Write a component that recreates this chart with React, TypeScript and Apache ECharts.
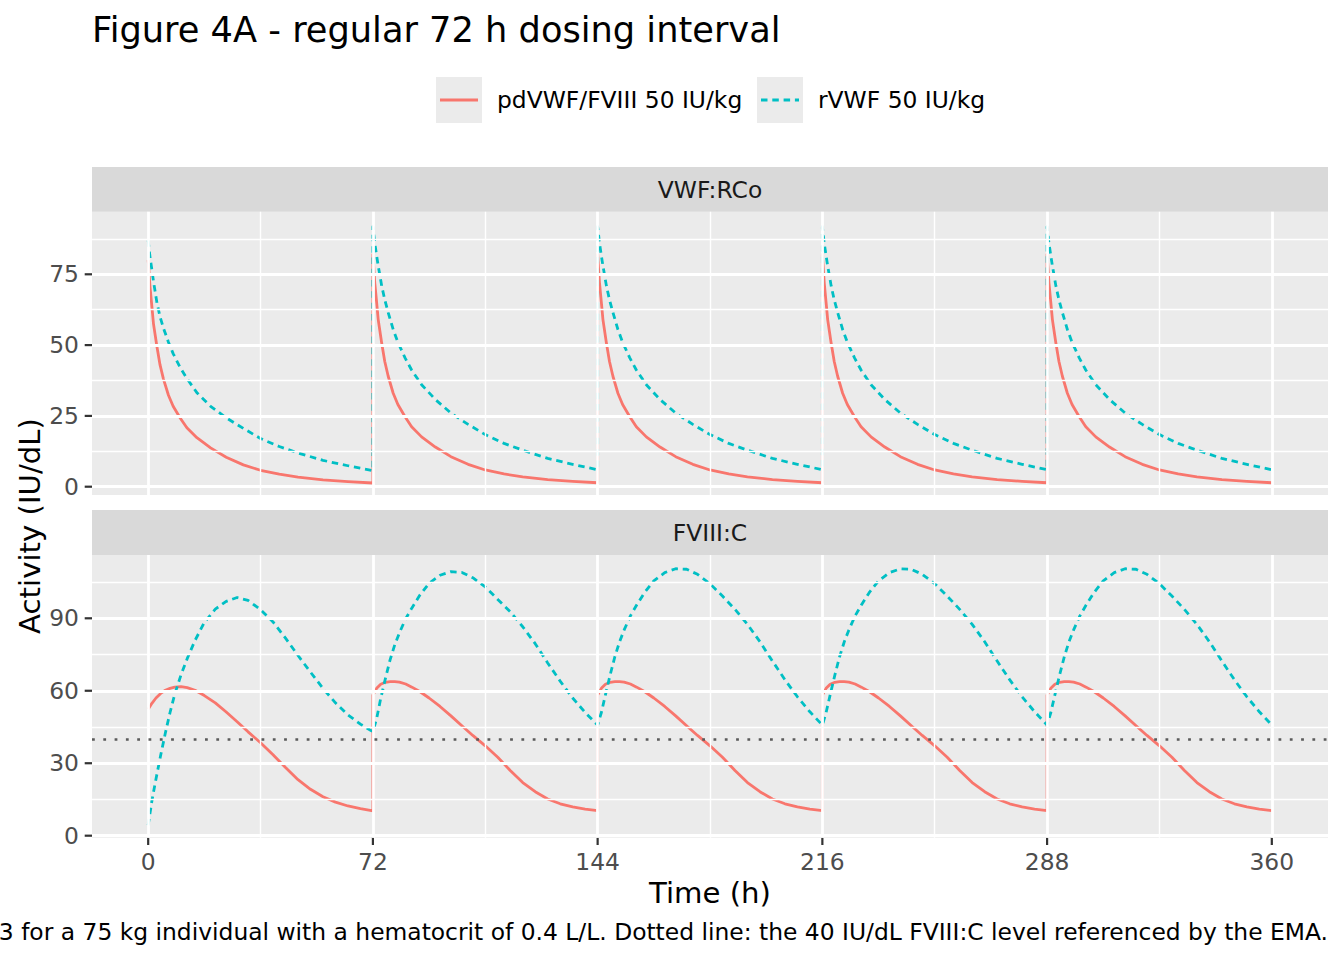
import React, { useEffect, useRef } from "react";
import * as echarts from "echarts";

// ---- data ----
const doseTimes = [0, 72, 144, 216, 288];

// VWF:RCo panel (hours after each dose)
const relTimesRCo = [0, 0.6, 1.2, 1.7, 2.8, 3.8, 4.9, 6.5, 8, 10.3, 12.4, 15.6, 20, 25, 30.5, 36, 42, 48, 56, 64, 72];
const rcoPdFirst = [80, 70.5, 63.5, 57.5, 49.5, 43, 38, 32.3, 28.4, 24.2, 20.8, 17.3, 13.7, 10.4, 7.7, 5.8, 4.4, 3.4, 2.4, 1.8, 1.3];
const rcoPdRepeat = [82, 72, 65, 59, 50.8, 44.2, 39, 33, 29, 24.7, 21.2, 17.6, 14, 10.6, 7.9, 5.9, 4.5, 3.5, 2.5, 1.9, 1.4];
const rcoRvwfFirst = [87, 81, 76.5, 72.5, 65, 60, 56, 51, 47, 42, 38.2, 33.2, 28.4, 24.3, 20.6, 17, 14.2, 11.9, 9.3, 7.4, 5.7];
const rcoRvwfRepeat = [91.8, 86, 81.5, 78, 71, 66, 61.5, 55.5, 51, 45.5, 41.2, 36, 30.8, 26, 22, 18.4, 15.3, 12.9, 10, 7.9, 6.0];

// FVIII:C panel (hours after each dose)
const relTimesF = [0, 1.2, 2.5, 4, 5.5, 7, 8.5, 10.5, 12.5, 15, 18, 21.5, 25, 28.5, 32, 36, 40, 44, 48, 52, 56, 60, 64, 68, 72];
const fPdFirst = [52.3, 54.8, 57, 58.9, 60.2, 61, 61.5, 61.7, 61.3, 60.2, 58, 55, 51.2, 47.2, 43, 38.5, 33.5, 28.2, 23.2, 19.2, 16.1, 13.9, 12.3, 11.2, 10.3];
const fPdRepeat = [58.2, 61, 62.7, 63.5, 63.8, 63.8, 63.6, 62.8, 61.5, 59.7, 57, 53.5, 49.6, 45.5, 41.5, 37.2, 32.5, 27, 22, 18.2, 15.2, 13.2, 11.9, 11, 10.4];
const fRvwfFirst = [4.3, 14.5, 23.5, 33.3, 42.5, 51, 58.5, 66.5, 73.3, 80.8, 88.3, 93.8, 97, 98.6, 97.4, 93.6, 88.5, 81.8, 74.6, 67.7, 61, 55, 50, 46.2, 43];
const fRvwfSecond = [43, 48.5, 56.8, 65, 72.8, 79, 84, 89.8, 94.3, 99.5, 104.5, 107.8, 109.3, 109, 106.8, 103, 97.8, 92.7, 86.5, 79.5, 71.5, 64, 57, 51, 45.8];
const fRvwfSteady = [45.8, 51, 58.3, 66.5, 74, 80.2, 85.2, 91, 95.5, 100.6, 105.5, 108.9, 110.5, 110.3, 108.2, 104.3, 99.2, 93.7, 87.5, 80.3, 72.3, 64.6, 57.5, 51.3, 45.8];

const emaLevel = 40;

// axis ticks / grid
const xTicks = [0, 72, 144, 216, 288, 360];
const xMinor = [36, 108, 180, 252, 324];
const rcoTicks = [0, 25, 50, 75];
const rcoMinor = [12.5, 37.5, 62.5, 87.5];
const fTicks = [0, 30, 60, 90];
const fMinor = [15, 45, 75, 105];

const seriesNames = ["pdVWF/FVIII 50 IU/kg", "rVWF 50 IU/kg"];
const panelNames = ["VWF:RCo", "FVIII:C"];

// ---- styling ----
const FONT = "DejaVu Sans";
const RED = "#F8766D";
const BLUE = "#00BFC4";
const DASH = [6.5, 4.8];
const LW = 2.8;
const PANEL_LEFT = 92;
const PANEL_W = 1236;
const TOP1 = 211.7;
const H1 = 283.3;
const TOP2 = 555;
const H2 = 282.7;
const TICK_LEN = 7.3;

function build(rel: number[], perInterval: number[][]) {
  const out: number[][] = [];
  doseTimes.forEach((d, k) => {
    rel.forEach((r, i) => out.push([d + r, perInterval[k][i]]));
  });
  return out;
}

function gridSeries(idx: number, yMajor: number[], yMinor: number[]) {
  const minor = { color: "#FFFFFF", width: 1.4, type: "solid" };
  const major = { color: "#FFFFFF", width: 2.8, type: "solid" };
  return {
    type: "line",
    xAxisIndex: idx,
    yAxisIndex: idx,
    data: [],
    silent: true,
    z: 1,
    markLine: {
      silent: true,
      symbol: ["none", "none"],
      label: { show: false },
      emphasis: { disabled: true },
      lineStyle: { type: "solid", color: "#FFFFFF" },
      data: [
        ...xMinor.map((v) => ({ xAxis: v, lineStyle: minor })),
        ...yMinor.map((v) => ({ yAxis: v, lineStyle: minor })),
        ...xTicks.map((v) => ({ xAxis: v, lineStyle: major })),
        ...yMajor.map((v) => ({ yAxis: v, lineStyle: major })),
      ],
    },
  };
}

function lineSeries(name: string, idx: number, data: number[][], color: string, dashed: boolean) {
  return {
    name,
    type: "line",
    xAxisIndex: idx,
    yAxisIndex: idx,
    data,
    showSymbol: false,
    symbol: "none",
    z: 3,
    lineStyle: { color, width: LW, type: dashed ? DASH : "solid", join: "round" },
    emphasis: { disabled: true },
  };
}

const tickLabel = { fontFamily: FONT, fontSize: 23.4, color: "#4D4D4D" };

function xAxis(idx: number, show: boolean) {
  return {
    type: "value",
    gridIndex: idx,
    min: -18,
    max: 378,
    axisLine: { show: false },
    splitLine: { show: false },
    axisTick: { show: false },
    axisLabel: show ? { show: true, margin: 13, customValues: xTicks, ...tickLabel } : { show: false },
  };
}

function yAxis(idx: number, min: number, max: number, ticks: number[]) {
  return {
    type: "value",
    gridIndex: idx,
    min,
    max,
    axisLine: { show: false },
    splitLine: { show: false },
    axisTick: { show: false },
    axisLabel: { show: true, margin: 13, customValues: ticks, ...tickLabel },
  };
}

const textStyle = (text: string, size: number, extra: any = {}) => ({
  text,
  fontFamily: FONT,
  fontSize: size,
  fill: "#000000",
  ...extra,
});

const staticGraphics: any[] = [
  // title
  { type: "text", x: 92, y: 29.5, style: textStyle("Figure 4A - regular 72 h dosing interval", 35.2, { verticalAlign: "middle" }) },
  // legend
  { type: "rect", shape: { x: 436, y: 77, width: 46, height: 46 }, style: { fill: "#EBEBEB" } },
  { type: "line", shape: { x1: 440, y1: 100, x2: 478, y2: 100 }, style: { stroke: RED, lineWidth: LW } },
  { type: "text", x: 497, y: 100, style: textStyle(seriesNames[0], 23.4, { verticalAlign: "middle" }) },
  { type: "rect", shape: { x: 757, y: 77, width: 46, height: 46 }, style: { fill: "#EBEBEB" } },
  { type: "line", shape: { x1: 761, y1: 100, x2: 799, y2: 100 }, style: { stroke: BLUE, lineWidth: LW, lineDash: DASH } },
  { type: "text", x: 818, y: 100, style: textStyle(seriesNames[1], 23.4, { verticalAlign: "middle" }) },
  // strips
  { type: "rect", shape: { x: PANEL_LEFT, y: 167, width: PANEL_W, height: TOP1 - 167 }, style: { fill: "#D9D9D9" } },
  { type: "text", x: PANEL_LEFT + PANEL_W / 2, y: 189.5, style: textStyle(panelNames[0], 23.4, { align: "center", verticalAlign: "middle", fill: "#1A1A1A" }) },
  { type: "rect", shape: { x: PANEL_LEFT, y: 510, width: PANEL_W, height: TOP2 - 510 }, style: { fill: "#D9D9D9" } },
  { type: "text", x: PANEL_LEFT + PANEL_W / 2, y: 532.5, style: textStyle(panelNames[1], 23.4, { align: "center", verticalAlign: "middle", fill: "#1A1A1A" }) },
  // axis titles
  { type: "text", x: PANEL_LEFT + PANEL_W / 2, y: 893, style: textStyle("Time (h)", 29.2, { align: "center", verticalAlign: "middle" }) },
  { type: "text", x: 30, y: 526, rotation: Math.PI / 2, style: textStyle("Activity (IU/dL)", 29.2, { align: "center", verticalAlign: "middle" }) },
  // caption
  { type: "text", x: 1328, y: 932, style: textStyle("3 for a 75 kg individual with a hematocrit of 0.4 L/L. Dotted line: the 40 IU/dL FVIII:C level referenced by the EMA.", 23.4, { align: "right", verticalAlign: "middle" }) },
];

const option: any = {
  animation: false,
  backgroundColor: "#FFFFFF",
  grid: [
    { left: PANEL_LEFT, top: TOP1, width: PANEL_W, height: H1, show: true, backgroundColor: "#EBEBEB", borderWidth: 0, containLabel: false, outerBoundsMode: "none" },
    { left: PANEL_LEFT, top: TOP2, width: PANEL_W, height: H2, show: true, backgroundColor: "#EBEBEB", borderWidth: 0, containLabel: false, outerBoundsMode: "none" },
  ],
  xAxis: [xAxis(0, false), xAxis(1, true)],
  yAxis: [yAxis(0, -2.93, 97.1, rcoTicks), yAxis(1, -0.83, 116.2, fTicks)],
  series: [
    gridSeries(0, rcoTicks, rcoMinor),
    gridSeries(1, fTicks, fMinor),
    lineSeries(seriesNames[0], 0, build(relTimesRCo, [rcoPdFirst, rcoPdRepeat, rcoPdRepeat, rcoPdRepeat, rcoPdRepeat]), RED, false),
    lineSeries(seriesNames[1], 0, build(relTimesRCo, [rcoRvwfFirst, rcoRvwfRepeat, rcoRvwfRepeat, rcoRvwfRepeat, rcoRvwfRepeat]), BLUE, true),
    lineSeries(seriesNames[0], 1, build(relTimesF, [fPdFirst, fPdRepeat, fPdRepeat, fPdRepeat, fPdRepeat]), RED, false),
    lineSeries(seriesNames[1], 1, build(relTimesF, [fRvwfFirst, fRvwfSecond, fRvwfSteady, fRvwfSteady, fRvwfSteady]), BLUE, true),
    {
      type: "line",
      xAxisIndex: 1,
      yAxisIndex: 1,
      data: [],
      silent: true,
      z: 4,
      markLine: {
        silent: true,
        symbol: ["none", "none"],
        label: { show: false },
        emphasis: { disabled: true },
        lineStyle: { color: "#5A5A5A", width: 2.6, type: [2.8, 8.5] },
        data: [{ yAxis: emaLevel }],
      },
    },
  ],
  graphic: staticGraphics,
};

export default function App() {
  const ref = useRef<HTMLDivElement>(null);
  useEffect(() => {
    const chart = echarts.init(ref.current as HTMLDivElement, null, { renderer: "svg" });
    chart.setOption(option);
    // axis tick marks, positioned through the chart's own scales
    const tickStyle = { stroke: "#333333", lineWidth: 2.2 };
    const ticks: any[] = [];
    const xBase = TOP2 + H2;
    xTicks.forEach((v) => {
      const x = chart.convertToPixel({ xAxisIndex: 1 }, v) as number;
      ticks.push({ type: "line", silent: true, shape: { x1: x, y1: xBase, x2: x, y2: xBase + TICK_LEN }, style: tickStyle });
    });
    [
      [0, rcoTicks],
      [1, fTicks],
    ].forEach(([idx, vals]: any) => {
      vals.forEach((v: number) => {
        const y = chart.convertToPixel({ yAxisIndex: idx }, v) as number;
        ticks.push({ type: "line", silent: true, shape: { x1: PANEL_LEFT - TICK_LEN, y1: y, x2: PANEL_LEFT, y2: y }, style: tickStyle });
      });
    });
    chart.setOption({ graphic: [...staticGraphics, ...ticks] });
    return () => chart.dispose();
  }, []);
  return (
    <div
      ref={ref}
      style={{ position: "fixed", left: 0, top: 0, width: 1344, height: 960, background: "#FFFFFF" }}
    />
  );
}
